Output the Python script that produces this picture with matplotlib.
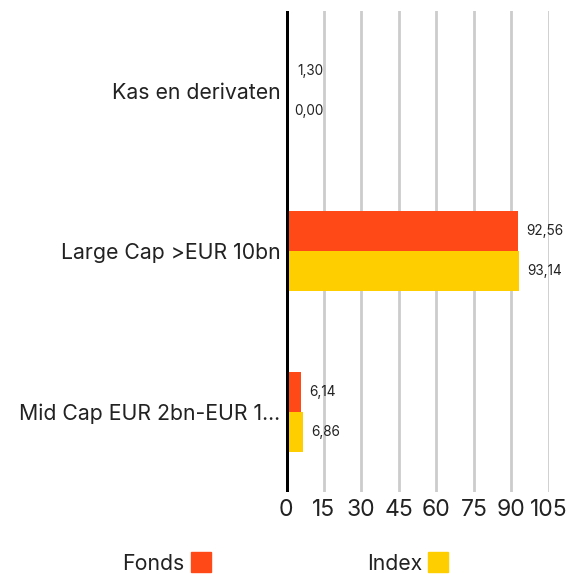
import matplotlib.pyplot as plt
from matplotlib.patches import Rectangle

categories = ['Kas en derivaten', 'Large Cap >EUR 10bn', 'Mid Cap EUR 2bn-EUR 1...']
fonds = [1.30, 92.56, 6.14]
index = [0.00, 93.14, 6.86]
series_names = ['Fonds', 'Index']
colors = ['#FF4A17', '#FFCE00']
ticks = [0, 15, 30, 45, 60, 75, 90, 105]

plt.rcParams['font.family'] = ['Inter', 'DejaVu Sans']

fig = plt.figure(figsize=(5.83, 5.74), dpi=100)
ax = fig.add_axes([0.4906, 0.143, 0.451, 0.838])

h = 0.25
pos = list(range(len(categories)))
ax.barh([p - h / 2 for p in pos], fonds, height=h, color=colors[0], zorder=3)
ax.barh([p + h / 2 for p in pos], index, height=h, color=colors[1], zorder=3)

for p, f, i in zip(pos, fonds, index):
    ax.text(f + 3.2, p - h / 2, f'{f:.2f}'.replace('.', ','), va='center', ha='left',
            fontsize=9.8, color='#222222')
    ax.text(i + 3.2, p + h / 2, f'{i:.2f}'.replace('.', ','), va='center', ha='left',
            fontsize=9.8, color='#222222')

ax.set_ylim(2.5, -0.5)
ax.set_xlim(0, 105)
ax.set_yticks(pos)
ax.set_yticklabels(categories, fontsize=15.3, color='#222222')
ax.set_xticks(ticks)
ax.set_xticklabels([str(t) for t in ticks], fontsize=16.5, color='#222222')
ax.tick_params(length=0)
ax.tick_params(axis='x', pad=5)
ax.tick_params(axis='y', pad=4)
ax.grid(axis='x', color='#cccccc', linewidth=2, zorder=0)
for s in ax.spines.values():
    s.set_visible(False)
ax.axvline(0, color='black', linewidth=3.6, zorder=4)

# legend
fig.text(0.209, 0.007, series_names[0], fontsize=15.3, ha='left', va='baseline', color='#222222')
fig.patches.append(Rectangle((0.328, 0.004), 0.0343, 0.0348, transform=fig.transFigure,
                             color=colors[0]))
fig.text(0.629, 0.007, series_names[1], fontsize=15.3, ha='left', va='baseline', color='#222222')
fig.patches.append(Rectangle((0.734, 0.004), 0.0343, 0.0348, transform=fig.transFigure,
                             color=colors[1]))

fig.savefig('out.png', dpi=100)
